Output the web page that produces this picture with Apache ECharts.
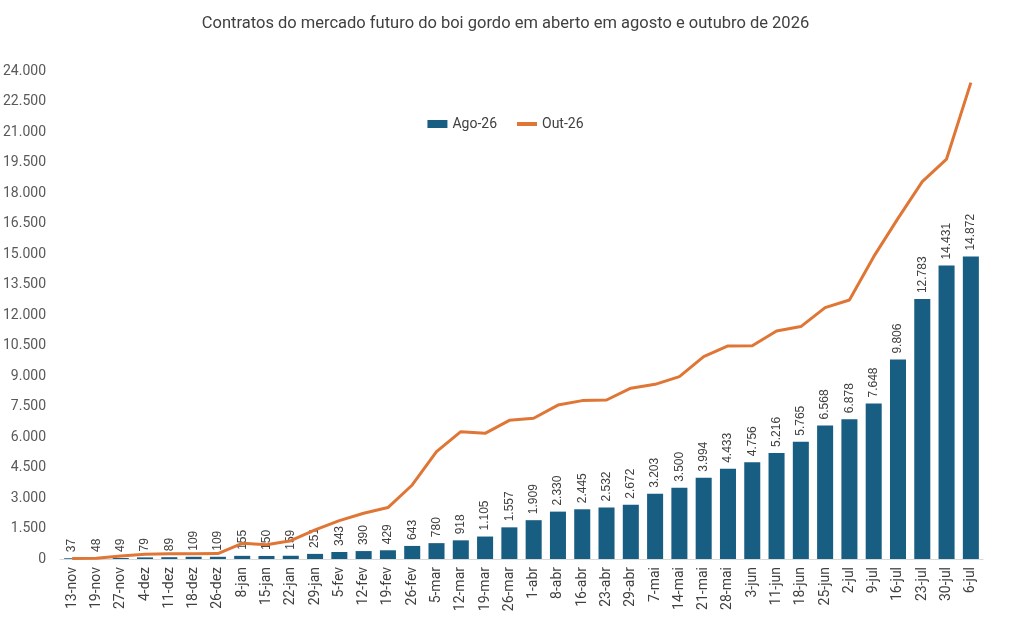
<!DOCTYPE html>
<html lang="pt">
<head>
  <meta charset="UTF-8">
  <title>Contratos em aberto - boi gordo</title>
  <style>
    html, body { margin: 0; padding: 0; background: #fff; }
    #root { width: 1011px; height: 629px; }
  </style>
</head>
<body>
  <div id="root"></div>
</body>
<script src="https://cdn.jsdelivr.net/npm/echarts@6/dist/echarts.min.js"></script>
<script>
  // datas dos relatórios
  const categories = ['13-nov', '19-nov', '27-nov', '4-dez', '11-dez', '18-dez', '26-dez', '8-jan', '15-jan', '22-jan',
    '29-jan', '5-fev', '12-fev', '19-fev', '26-fev', '5-mar', '12-mar', '19-mar', '26-mar', '1-abr',
    '8-abr', '16-abr', '23-abr', '29-abr', '7-mai', '14-mai', '21-mai', '28-mai', '3-jun', '11-jun',
    '18-jun', '25-jun', '2-jul', '9-jul', '16-jul', '23-jul', '30-jul', '6-jul']

  // contratos agosto/26 (barras)
  const ago26 = [37, 48, 49, 79, 89, 109, 109, 155, 150, 159,
    251, 343, 390, 429, 643, 780, 918, 1105, 1557, 1909,
    2330, 2445, 2532, 2672, 3203, 3500, 3994, 4433, 4756, 5216,
    5765, 6568, 6878, 7648, 9806, 12783, 14431, 14872]

  // contratos outubro/26 (linha)
  const out26 = [20, 40, 150, 230, 260, 260, 270, 770, 700, 900,
    1430, 1890, 2250, 2530, 3640, 5280, 6260, 6180, 6820, 6920,
    7570, 7790, 7820, 8400, 8590, 8970, 9950, 10480, 10490, 11210,
    11430, 12360, 12740, 14870, 16750, 18560, 19670, 23430]

  const yTicks = { min: 0, max: 24000, interval: 1500 }

  const fmt = v => String(v).replace(/\B(?=(\d{3})+(?!\d))/g, '.')

  let myChart = echarts.init(document.getElementById('root'))

  let option = {
    animation: false,
    textStyle: { fontFamily: 'Roboto, sans-serif' },
    title: {
      text: 'Contratos do mercado futuro do boi gordo em aberto em agosto e outubro de 2026',
      left: 'center',
      top: 10,
      textStyle: { fontSize: 16.5, fontWeight: 'normal', color: '#404040' }
    },
    legend: {
      top: 112,
      left: 'center',
      itemGap: 18,
      itemWidth: 20,
      itemHeight: 8,
      lineStyle: { width: 4 },
      textStyle: { fontSize: 14, color: '#404040' },
      data: [
        { name: 'Ago-26', icon: 'rect' },
        { name: 'Out-26', itemStyle: { opacity: 0 }, lineStyle: { width: 4 } }
      ]
    },
    grid: { left: 58, right: 28, top: 71, bottom: 70 },
    xAxis: {
      type: 'category',
      data: categories,
      axisLine: { lineStyle: { color: '#d9d9d9' } },
      axisTick: { show: false },
      axisLabel: { rotate: 90, fontSize: 14, color: '#404040', margin: 8 }
    },
    yAxis: {
      type: 'value',
      min: yTicks.min,
      max: yTicks.max,
      interval: yTicks.interval,
      splitLine: { show: false },
      axisLabel: { fontSize: 14, color: '#595959', margin: 14, formatter: fmt }
    },
    series: [
      {
        name: 'Ago-26',
        type: 'bar',
        data: ago26,
        barCategoryGap: '34%',
        itemStyle: { color: '#175e82' },
        label: {
          show: true,
          position: 'top',
          rotate: 90,
          align: 'left',
          verticalAlign: 'middle',
          distance: 6,
          fontSize: 12,
          color: '#404040',
          fontFamily: 'Liberation Sans, Arial, sans-serif',
          formatter: p => fmt(p.value)
        }
      },
      {
        name: 'Out-26',
        type: 'line',
        data: out26,
        symbol: 'none',
        lineStyle: { color: '#e07635', width: 3 },
        itemStyle: { color: '#e07635' }
      }
    ]
  }

  myChart.setOption(option)
</script>
</html>
